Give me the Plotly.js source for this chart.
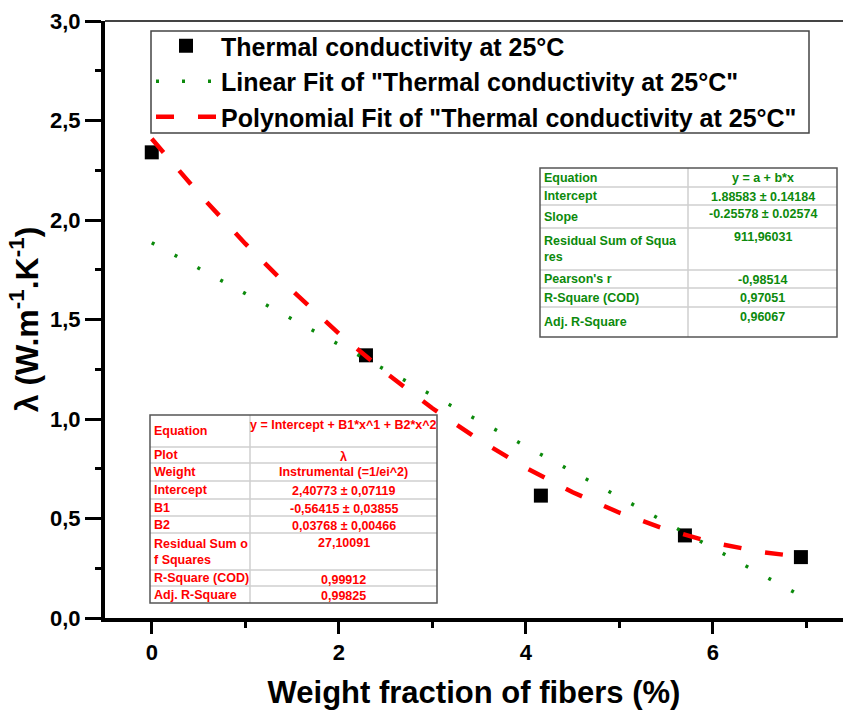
<!DOCTYPE html>
<html>
<head>
<meta charset="utf-8">
<script src="https://cdn.plot.ly/plotly-3.0.1.min.js"></script>
<style>html,body{margin:0;padding:0;background:#fff;}#chart{width:843px;height:714px;}</style>
</head>
<body>
<div id="chart"></div>
<script>
// ---- data ----
const fiberFraction = [0, 2.29, 4.16, 5.70, 6.94];
const conductivity = [2.34, 1.32, 0.615, 0.415, 0.306];

const linearFitX = [0, 6.94];
const linearFitY = [1.886, 0.111];

const polyFitX = [0, 0.5, 1, 1.5, 2, 2.5, 3, 3.5, 4, 4.5, 5, 5.5, 6, 6.5, 6.94];
const polyFitY = [2.408, 2.135, 1.881, 1.646, 1.430, 1.233, 1.054, 0.895, 0.754, 0.632, 0.529, 0.445, 0.379, 0.333, 0.307];

const seriesNames = ['Thermal conductivity at 25°C', 'Linear Fit of "Thermal conductivity at 25°C"', 'Polynomial Fit of "Thermal conductivity at 25°C"'];

const linLabels = ['Equation', 'Intercept', 'Slope', 'Residual Sum of Squa<br>res', "Pearson's r", 'R-Square (COD)', 'Adj. R-Square'];
const linValues = ['y = a + b*x', '1.88583 ± 0.14184', '-0.25578 ± 0.02574', '911,96031', '-0,98514', '0,97051', '0,96067'];

const polyLabels = ['Equation', 'Plot', 'Weight', 'Intercept', 'B1', 'B2', 'Residual Sum o<br>f Squares', 'R-Square (COD)', 'Adj. R-Square'];
const polyValues = ['y = Intercept + B1*x^1 + B2*x^2', 'λ', 'Instrumental (=1/ei^2)', '2,40773 ± 0,07119', '-0,56415 ± 0,03855', '0,03768 ± 0,00466', '27,10091', '0,99912', '0,99825'];

const xTitle = 'Weight fraction of fibers (%)';
const yTitle = 'λ (W.m<sup>-1</sup>.K<sup>-1</sup>)';

// ---- styling / layout geometry (pixels in the 843x714 picture) ----
const FONT = 'Liberation Sans, Arial, sans-serif';
const GREEN = '#0c8a0c';
const RED = '#ff0000';
const PLOT = {l: 105, r: 843, t: 21, b: 618};
const px2x = p => (p - PLOT.l) / (PLOT.r - PLOT.l);
const px2y = p => (PLOT.b - p) / (PLOT.b - PLOT.t);
const bold = s => '<b>' + s + '</b>';

const legendBox = {left: 151, right: 809, top: 31, bottom: 133};
const linTableBox = {left: 540, mid: 688, right: 837, rows: [168, 187, 205, 228, 270, 288, 307, 337]};
const polyTableBox = {left: 150, mid: 250, right: 437, rows: [415, 447, 463, 481, 499, 516, 533, 570, 586, 603]};

const shapes = [
  {type: 'line', xref: 'paper', yref: 'paper', x0: 0, x1: 1, y0: 1, y1: 1, line: {color: '#444', width: 2}},
  {type: 'rect', xref: 'paper', yref: 'paper', layer: 'below',
   x0: px2x(legendBox.left), x1: px2x(legendBox.right), y0: px2y(legendBox.bottom), y1: px2y(legendBox.top),
   fillcolor: '#fff', line: {color: '#444', width: 1.5}}
];
const annotations = [];

function buildTable(box, labels, values, color) {
  const n = labels.length;
  const top = box.rows[0], bottom = box.rows[n];
  shapes.push({type: 'rect', xref: 'paper', yref: 'paper', layer: 'above',
    x0: px2x(box.left), x1: px2x(box.right), y0: px2y(bottom), y1: px2y(top),
    fillcolor: '#fff', line: {color: '#c8c8c8', width: 0}});
  for (let i = 1; i < n; i++) {
    shapes.push({type: 'line', xref: 'paper', yref: 'paper', layer: 'above',
      x0: px2x(box.left), x1: px2x(box.right), y0: px2y(box.rows[i]), y1: px2y(box.rows[i]),
      line: {color: '#cfcfcf', width: 1.5}});
  }
  shapes.push({type: 'line', xref: 'paper', yref: 'paper', layer: 'above',
    x0: px2x(box.mid), x1: px2x(box.mid), y0: px2y(bottom), y1: px2y(top),
    line: {color: '#cfcfcf', width: 1.5}});
  shapes.push({type: 'rect', xref: 'paper', yref: 'paper', layer: 'above',
    x0: px2x(box.left), x1: px2x(box.right), y0: px2y(bottom), y1: px2y(top),
    line: {color: '#555', width: 1.5}});
  for (let i = 0; i < n; i++) {
    const rt = box.rows[i], rb = box.rows[i + 1];
    annotations.push({xref: 'paper', yref: 'paper', x: px2x(box.left + 2), y: px2y((rt + rb) / 2),
      xanchor: 'left', yanchor: 'middle', align: 'left', showarrow: false,
      text: bold(labels[i]), font: {family: FONT, size: 12.5, color: color}});
    annotations.push({xref: 'paper', yref: 'paper', x: px2x((box.mid + box.right) / 2), y: px2y(rt + 0.5),
      xanchor: 'center', yanchor: 'top', align: 'center', showarrow: false,
      text: bold(values[i]), font: {family: FONT, size: 12.5, color: color}});
  }
}
buildTable(linTableBox, linLabels, linValues, GREEN);
buildTable(polyTableBox, polyLabels, polyValues, RED);

const traces = [
  {
    type: 'scatter', mode: 'markers', name: seriesNames[0],
    x: fiberFraction, y: conductivity,
    marker: {symbol: 'square', size: 14, color: '#000'}
  },
  {
    type: 'scatter', mode: 'lines', name: seriesNames[1],
    x: linearFitX, y: linearFitY,
    line: {color: GREEN, width: 3.5, dash: '3px,23px'}
  },
  {
    type: 'scatter', mode: 'lines', name: seriesNames[2],
    x: polyFitX, y: polyFitY,
    line: {color: RED, width: 4.5, dash: '18px,24px'}
  }
];

const layout = {
  width: 843, height: 714,
  margin: {l: 105, r: 0, t: 21, b: 96},
  paper_bgcolor: '#fff', plot_bgcolor: 'rgba(0,0,0,0)',
  separators: ',.',
  font: {family: FONT, color: '#000'},
  showlegend: true,
  legend: {
    x: px2x(151), y: px2y(23), xanchor: 'left', yanchor: 'top',
    bgcolor: 'rgba(0,0,0,0)', borderwidth: 0,
    font: {family: FONT, size: 25, color: '#000', weight: 'bold'},
    itemwidth: 60, tracegroupgap: 0
  },
  xaxis: {
    range: [-0.5, 7.39], dtick: 2, tick0: 0,
    showgrid: false, zeroline: false,
    showline: true, linecolor: '#000', linewidth: 4,
    ticks: 'outside', ticklen: 12, tickwidth: 3, tickcolor: '#000',
    minor: {dtick: 1, ticks: 'outside', ticklen: 6, tickwidth: 3, tickcolor: '#000'},
    tickfont: {family: FONT, size: 22, color: '#000', weight: 'bold'},
    title: {text: bold(xTitle), font: {family: FONT, size: 31, color: '#000'}, standoff: 18}
  },
  yaxis: {
    range: [0, 3], dtick: 0.5, tick0: 0, tickformat: '.1f',
    showgrid: false, zeroline: false,
    showline: true, linecolor: '#000', linewidth: 4,
    ticks: 'outside', ticklen: 16, tickwidth: 3, tickcolor: '#000',
    minor: {dtick: 0.25, ticks: 'outside', ticklen: 6, tickwidth: 3, tickcolor: '#000'},
    tickfont: {family: FONT, size: 22, color: '#000', weight: 'bold'},
    title: {text: bold(yTitle), font: {family: FONT, size: 32, color: '#000'}, standoff: 3}
  },
  shapes: shapes,
  annotations: annotations
};

Plotly.newPlot('chart', traces, layout, {displayModeBar: false, staticPlot: true});
</script>
</body>
</html>
